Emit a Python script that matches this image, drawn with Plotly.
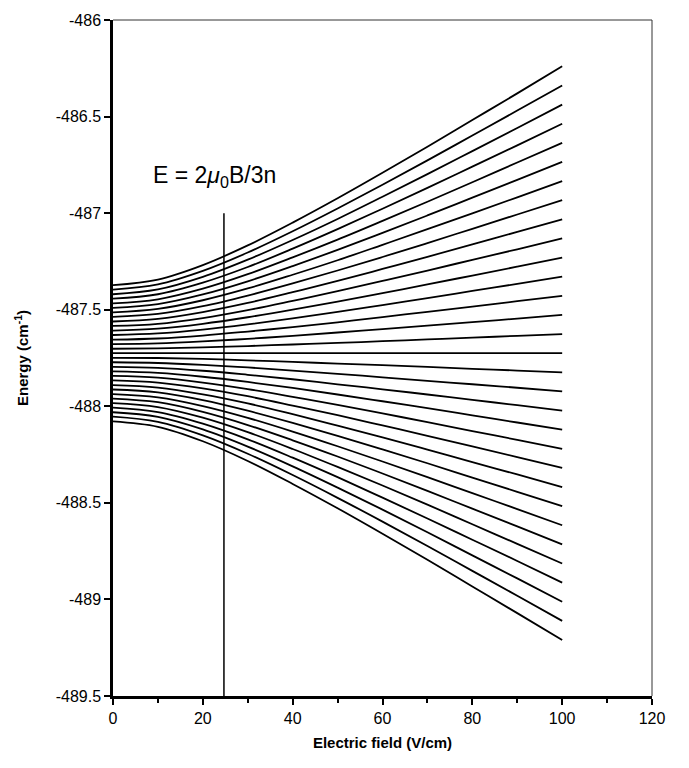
import plotly.graph_objects as go

# Electric field values (V/cm) at which the level energies were read
field_vcm = [0, 10, 20, 30, 40, 50, 60, 70, 80, 90, 100]

# Energies (cm^-1) of the 31 levels, top to bottom, read at each field value
levels_cm1 = [
    [-487.373, -487.344, -487.269, -487.167, -487.049, -486.923, -486.791, -486.656, -486.518, -486.380, -486.240],
    [-487.396, -487.369, -487.299, -487.204, -487.094, -486.976, -486.853, -486.727, -486.598, -486.469, -486.339],
    [-487.420, -487.395, -487.330, -487.241, -487.139, -487.030, -486.915, -486.798, -486.679, -486.559, -486.438],
    [-487.443, -487.420, -487.360, -487.279, -487.184, -487.083, -486.977, -486.869, -486.759, -486.649, -486.537],
    [-487.467, -487.446, -487.391, -487.316, -487.229, -487.137, -487.040, -486.941, -486.840, -486.738, -486.636],
    [-487.490, -487.471, -487.421, -487.353, -487.274, -487.190, -487.102, -487.012, -486.920, -486.828, -486.735],
    [-487.514, -487.496, -487.451, -487.390, -487.319, -487.244, -487.164, -487.083, -487.001, -486.918, -486.834],
    [-487.537, -487.522, -487.482, -487.427, -487.364, -487.297, -487.227, -487.155, -487.081, -487.007, -486.933],
    [-487.561, -487.547, -487.512, -487.465, -487.409, -487.351, -487.289, -487.226, -487.162, -487.097, -487.032],
    [-487.584, -487.573, -487.543, -487.502, -487.454, -487.404, -487.351, -487.297, -487.242, -487.187, -487.131],
    [-487.608, -487.598, -487.573, -487.539, -487.500, -487.458, -487.414, -487.369, -487.323, -487.277, -487.230],
    [-487.631, -487.623, -487.603, -487.576, -487.545, -487.511, -487.476, -487.440, -487.403, -487.366, -487.329],
    [-487.655, -487.649, -487.634, -487.613, -487.590, -487.565, -487.538, -487.511, -487.484, -487.456, -487.428],
    [-487.678, -487.674, -487.664, -487.651, -487.635, -487.618, -487.600, -487.582, -487.564, -487.546, -487.527],
    [-487.702, -487.700, -487.695, -487.688, -487.680, -487.672, -487.663, -487.654, -487.645, -487.635, -487.626],
    [-487.725, -487.725, -487.725, -487.725, -487.725, -487.725, -487.725, -487.725, -487.725, -487.725, -487.725],
    [-487.749, -487.750, -487.755, -487.762, -487.770, -487.779, -487.787, -487.796, -487.806, -487.815, -487.824],
    [-487.772, -487.776, -487.786, -487.799, -487.815, -487.832, -487.850, -487.868, -487.886, -487.904, -487.923],
    [-487.796, -487.801, -487.816, -487.837, -487.860, -487.886, -487.912, -487.939, -487.967, -487.994, -488.022],
    [-487.819, -487.827, -487.847, -487.874, -487.905, -487.939, -487.974, -488.010, -488.047, -488.084, -488.121],
    [-487.843, -487.852, -487.877, -487.911, -487.951, -487.993, -488.037, -488.082, -488.128, -488.174, -488.220],
    [-487.866, -487.877, -487.907, -487.948, -487.996, -488.046, -488.099, -488.153, -488.208, -488.263, -488.319],
    [-487.890, -487.903, -487.938, -487.985, -488.041, -488.100, -488.161, -488.224, -488.289, -488.353, -488.418],
    [-487.913, -487.928, -487.968, -488.023, -488.086, -488.153, -488.223, -488.295, -488.369, -488.443, -488.517],
    [-487.937, -487.954, -487.999, -488.060, -488.131, -488.207, -488.286, -488.367, -488.450, -488.532, -488.616],
    [-487.960, -487.979, -488.029, -488.097, -488.176, -488.260, -488.348, -488.438, -488.530, -488.622, -488.715],
    [-487.984, -488.004, -488.059, -488.134, -488.221, -488.314, -488.410, -488.509, -488.611, -488.712, -488.814],
    [-488.007, -488.030, -488.090, -488.171, -488.266, -488.367, -488.473, -488.581, -488.691, -488.801, -488.913],
    [-488.031, -488.055, -488.120, -488.209, -488.311, -488.421, -488.535, -488.652, -488.772, -488.891, -489.012],
    [-488.054, -488.081, -488.151, -488.246, -488.356, -488.474, -488.597, -488.723, -488.852, -488.981, -489.111],
    [-488.078, -488.106, -488.181, -488.283, -488.402, -488.528, -488.660, -488.795, -488.933, -489.071, -489.210],
]

# Marker line at E = 2 mu0 B / 3n
marker_field = [24.7, 24.7]
marker_energy = [-487.0, -489.5]
marker_label = "E = 2<i>μ</i><sub>0</sub>B/3n"
marker_label_pos = (22.7, -486.81)

x_ticks = [0, 20, 40, 60, 80, 100, 120]
y_ticks = [-486, -486.5, -487, -487.5, -488, -488.5, -489, -489.5]
y_ticktext = ["-486", "-486.5", "-487", "-487.5", "-488", "-488.5", "-489", "-489.5"]

FONT = "Liberation Sans, Arial, sans-serif"

fig = go.Figure()
for energies in levels_cm1:
    fig.add_trace(go.Scatter(
        x=field_vcm, y=energies, mode="lines",
        line=dict(color="black", width=1.8, shape="spline", smoothing=1.0),
        showlegend=False, hoverinfo="skip",
    ))

fig.add_trace(go.Scatter(
    x=marker_field, y=marker_energy, mode="lines",
    line=dict(color="black", width=1.5), showlegend=False, hoverinfo="skip",
))

fig.add_annotation(
    x=marker_label_pos[0], y=marker_label_pos[1], text=marker_label,
    showarrow=False, font=dict(family=FONT, size=23, color="black"),
    xanchor="center", yanchor="middle",
)

# thin frame on the top and right
fig.add_shape(type="line", xref="paper", yref="paper", x0=0, x1=1, y0=1, y1=1,
              line=dict(color="#333", width=1))
fig.add_shape(type="line", xref="paper", yref="paper", x0=1, x1=1, y0=0, y1=1,
              line=dict(color="#333", width=1))

fig.update_layout(
    width=689, height=768,
    margin=dict(l=113, r=37, t=16, b=72),
    paper_bgcolor="white", plot_bgcolor="white",
    font=dict(family=FONT, color="black", size=16),
    xaxis=dict(
        range=[0, 120], tickvals=x_ticks, ticktext=[str(v) for v in x_ticks],
        showgrid=False, zeroline=False,
        showline=True, linecolor="black", linewidth=2.5,
        ticks="outside", ticklen=6, tickwidth=2, tickcolor="black",
        minor=dict(dtick=10, ticks="outside", ticklen=4, tickwidth=2, tickcolor="black"),
        tickfont=dict(family=FONT, size=16),
        title=dict(text="<b>Electric field (V/cm)</b>", font=dict(family=FONT, size=15), standoff=12),
    ),
    yaxis=dict(
        range=[-489.5, -486], tickvals=y_ticks, ticktext=y_ticktext,
        showgrid=False, zeroline=False,
        showline=True, linecolor="black", linewidth=2.5,
        ticks="outside", ticklen=6, tickwidth=2, tickcolor="black",
        tickfont=dict(family=FONT, size=16),
        title=dict(text="<b>Energy (cm<sup>-1</sup>)</b>", font=dict(family=FONT, size=15), standoff=24),
    ),
)

fig.write_html("out.html")
